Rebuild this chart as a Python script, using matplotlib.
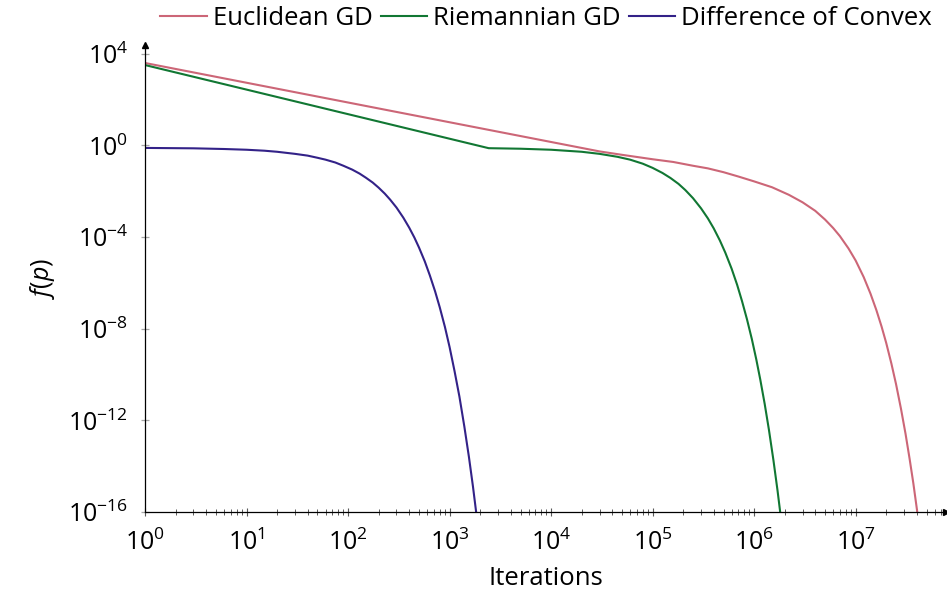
import matplotlib
matplotlib.use("Agg")
import matplotlib.pyplot as plt
from matplotlib.ticker import LogLocator, NullLocator

plt.rcParams['font.family'] = ['Open Sans', 'DejaVu Sans']
plt.rcParams['mathtext.fontset'] = 'custom'
plt.rcParams['mathtext.rm'] = 'Open Sans'
plt.rcParams['mathtext.it'] = 'Open Sans:italic'
plt.rcParams['mathtext.bf'] = 'Open Sans:bold'

# values
eucl_iter = [1, 327, 3180, 3e4, 5e4, 1e5, 1.6e5, 2.5e5, 3.5e5, 5e5, 7e5, 1e6, 1.5e6,
             2.2e6, 3e6, 4e6, 5e6, 6e6, 7e6, 8.5e6, 1e7, 1.2e7, 1.4e7, 1.6e7, 1.8e7,
             2.0e7, 2.25e7, 2.5e7, 2.8e7, 3.1e7, 3.4e7, 3.7e7, 4.0e7, 4.2e7]
eucl_f = [3980, 27, 3.8, 0.55, 0.39, 0.25, 0.19, 0.13, 0.10, 0.068, 0.044, 0.027,
          0.015, 7.0e-3, 3.3e-3, 1.4e-3, 5.8e-4, 2.5e-4, 1.1e-4, 3.2e-5, 9.5e-6,
          1.8e-6, 3.4e-7, 6.5e-8, 1.25e-8, 2.4e-9, 3.0e-10, 3.8e-11, 3.1e-12,
          2.6e-13, 2.1e-14, 1.8e-15, 1.45e-16, 2.8e-17]

riem_iter = [1, 2430, 5000, 1e4, 2e4, 3e4, 4.5e4, 6e4, 8e4, 1e5, 1.25e5, 1.5e5, 1.8e5,
             2.1e5, 2.5e5, 3e5, 3.5e5, 4e5, 4.6e5, 5.2e5, 6e5, 6.8e5, 7.6e5, 8.5e5,
             9.5e5, 1.05e6, 1.15e6, 1.27e6, 1.4e6, 1.55e6, 1.7e6, 1.85e6]
riem_f = [3240, 0.76, 0.72, 0.65, 0.53, 0.43, 0.32, 0.24, 0.16, 0.105, 0.063, 0.038,
          0.021, 0.0113, 5.0e-3, 1.8e-3, 6.6e-4, 2.4e-4, 7.1e-5, 2.1e-5, 4.2e-6,
          8.3e-7, 1.6e-7, 2.6e-8, 3.5e-9, 4.6e-10, 6.0e-11, 5.3e-12, 3.8e-13,
          1.8e-14, 8.7e-16, 4.2e-17]

dc_iter = [1, 3, 6, 10, 15, 20, 30, 40, 50, 60, 75, 90, 110, 130, 150, 175, 200, 230,
           260, 300, 350, 400, 450, 500, 570, 640, 720, 800, 900, 1000, 1120, 1250,
           1400, 1550, 1700, 1850]
dc_f = [0.78, 0.75, 0.70, 0.65, 0.59, 0.53, 0.43, 0.36, 0.29, 0.24, 0.18, 0.13, 0.088,
        0.059, 0.039, 0.024, 0.0144, 7.9e-3, 4.3e-3, 1.95e-3, 7.1e-4, 2.6e-4, 9.6e-5,
        3.5e-5, 8.7e-6, 2.1e-6, 4.3e-7, 8.7e-8, 1.2e-8, 1.6e-9, 1.4e-10, 1.1e-11,
        5.2e-13, 2.6e-14, 1.3e-15, 6.4e-17]

labels = ["Euclidean GD", "Riemannian GD", "Difference of Convex"]
colors = ["#CC6677", "#117733", "#332288"]

fig = plt.figure(figsize=(9.47, 5.95), dpi=100)
ax = fig.add_axes([145/947, 83/595, 801/947, 467/595])

for xs, ys, lab, col in zip([eucl_iter, riem_iter, dc_iter], [eucl_f, riem_f, dc_f],
                            labels, colors):
    ax.plot(xs, ys, color=col, lw=1.5, label=lab)

ax.set_xscale('log')
ax.set_yscale('log')
ax.set_xlim(1, 10**7.89)
ax.set_ylim(1e-16, 10**4.385)

ax.xaxis.set_major_locator(LogLocator(base=10, numticks=20))
ax.xaxis.set_minor_locator(LogLocator(base=10, subs=range(2, 10), numticks=100))
ax.set_yticks([1e-16, 1e-12, 1e-8, 1e-4, 1e0, 1e4])
ax.yaxis.set_minor_locator(NullLocator())

ax.spines['top'].set_visible(False)
ax.spines['right'].set_visible(False)
ax.spines['left'].set_linewidth(0.9)
ax.spines['bottom'].set_linewidth(0.9)
ax.plot(1, 0, '>k', markersize=5, transform=ax.transAxes, clip_on=False)
ax.plot(0, 1, '^k', markersize=5, transform=ax.transAxes, clip_on=False)

ax.tick_params(axis='x', which='major', direction='inout', length=6, width=0.8,
               color='0.35', labelsize=18, pad=10)
ax.tick_params(axis='x', which='minor', direction='inout', length=4.5, width=0.7,
               color='0.35')
ax.tick_params(axis='y', which='major', direction='inout', length=6, width=0.9,
               color='0.65', labelsize=18, pad=9)

ax.set_xlabel("Iterations", fontsize=18.5, labelpad=7)
ax.set_ylabel("$f(p)$", fontsize=18, labelpad=8)

fig.legend(loc='upper right', bbox_to_anchor=(0.995, 1.008), ncol=3, frameon=False,
           fontsize=18.5, handlelength=1.8, handletextpad=0.25, columnspacing=0.3,
           borderaxespad=0.0)

fig.savefig("out.png", dpi=100)
